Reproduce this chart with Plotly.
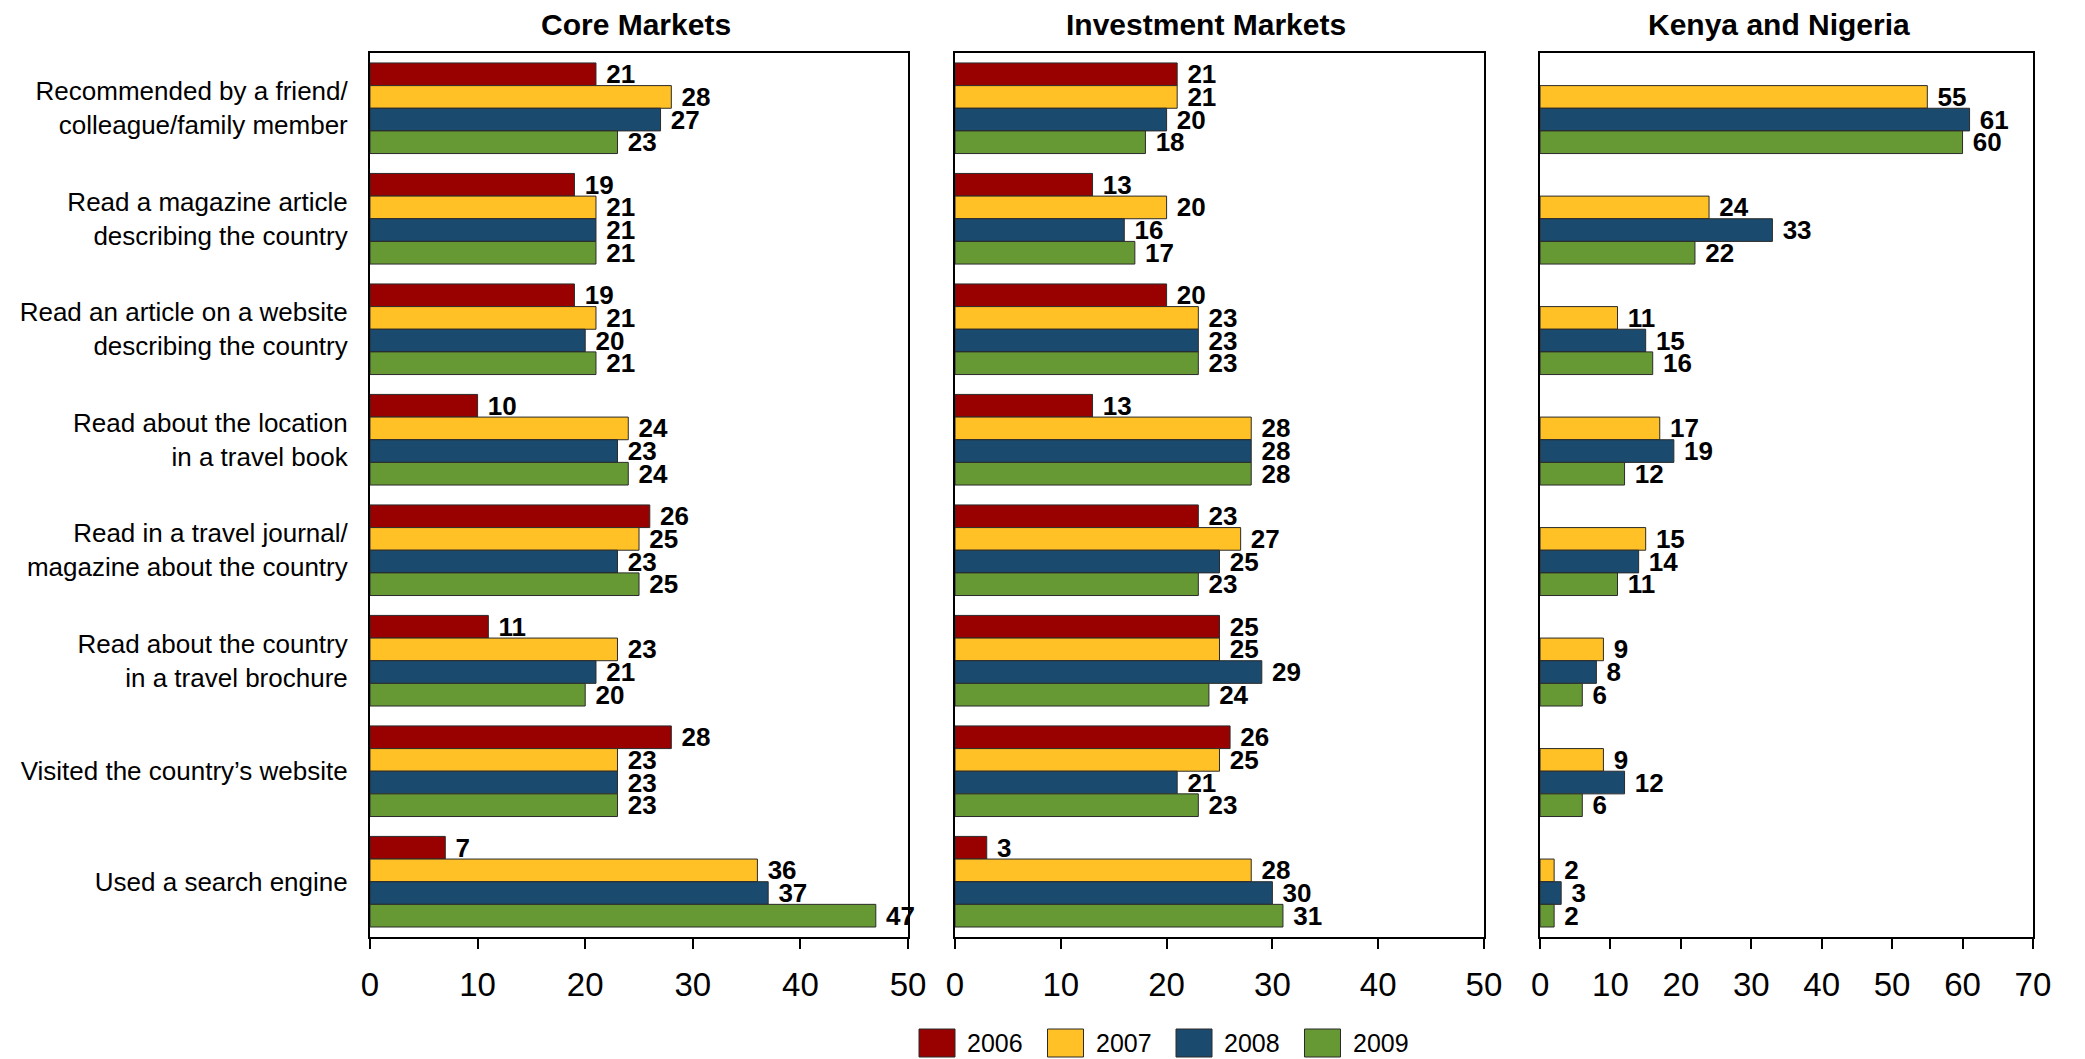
import plotly.graph_objects as go
from plotly.subplots import make_subplots

categories = [
    "Recommended by a friend/<br>colleague/family member",
    "Read a magazine article<br>describing the country",
    "Read an article on a website<br>describing the country",
    "Read about the location<br>in a travel book",
    "Read in a travel journal/<br>magazine about the country",
    "Read about the country<br>in a travel brochure",
    "Visited the country’s website",
    "Used a search engine",
]
years = ["2006", "2007", "2008", "2009"]
colors = ["#990000", "#FFC125", "#1A4A6E", "#669933"]
panel_titles = ["Core Markets", "Investment Markets", "Kenya and Nigeria"]

core_2006 = [21, 19, 19, 10, 26, 11, 28, 7]
core_2007 = [28, 21, 21, 24, 25, 23, 23, 36]
core_2008 = [27, 21, 20, 23, 23, 21, 23, 37]
core_2009 = [23, 21, 21, 24, 25, 20, 23, 47]

invest_2006 = [21, 13, 20, 13, 23, 25, 26, 3]
invest_2007 = [21, 20, 23, 28, 27, 25, 25, 28]
invest_2008 = [20, 16, 23, 28, 25, 29, 21, 30]
invest_2009 = [18, 17, 23, 28, 23, 24, 23, 31]

kenya_2006 = [None] * 8
kenya_2007 = [55, 24, 11, 17, 15, 9, 9, 2]
kenya_2008 = [61, 33, 15, 19, 14, 8, 12, 3]
kenya_2009 = [60, 22, 16, 12, 11, 6, 6, 2]

panels = [
    [core_2006, core_2007, core_2008, core_2009],
    [invest_2006, invest_2007, invest_2008, invest_2009],
    [kenya_2006, kenya_2007, kenya_2008, kenya_2009],
]
x_max = [50, 50, 70]

font = "Liberation Sans, Arial, sans-serif"
W, H = 2085, 1059

fig = make_subplots(rows=1, cols=3, shared_yaxes=False)

for p, series in enumerate(panels):
    for i, vals in enumerate(series):
        fig.add_trace(go.Bar(
            y=categories, x=vals, orientation="h",
            name=years[i], showlegend=False,
            marker=dict(color=colors[i], line=dict(color="#2b2b2b", width=1)),
            texttemplate="\u00a0%{x}", textposition="outside",
            textfont=dict(size=26, color="black", family=font, weight="bold"),
            constraintext="none", cliponaxis=False,
        ), row=1, col=p + 1)

# page body has an 8px margin, so positions are shifted by that
domains = [[0.1736, 0.4317], [0.4542, 0.7079], [0.7348, 0.9712]]
title_x = [0.495, 0.475, 0.484]
for p in range(3):
    xa = "xaxis" if p == 0 else f"xaxis{p + 1}"
    ya = "yaxis" if p == 0 else f"yaxis{p + 1}"
    fig.update_layout({
        xa: dict(domain=domains[p], range=[0, x_max[p]], dtick=10,
                 showline=True, linecolor="black", linewidth=2, mirror=True,
                 ticks="outside", ticklen=10, tickwidth=1.5, tickcolor="black",
                 ticklabelstandoff=7, showgrid=False, zeroline=False,
                 tickfont=dict(size=33, family=font, color="black"),
                 automargin=False, fixedrange=True),
        ya: dict(domain=[0.1228, 0.9575], autorange="reversed",
                 showline=True, linecolor="black", linewidth=2, mirror=True,
                 showgrid=False, ticks="", showticklabels=(p == 0),
                 ticklabelstandoff=15,
                 tickfont=dict(size=26, family=font, color="black"),
                 automargin=False, fixedrange=True),
    })
    fig.add_annotation(text=f"<b>{panel_titles[p]}</b>", x=title_x[p],
                       xref=f"x{'' if p == 0 else p + 1} domain",
                       y=1 - 17 / H, yref="paper", yanchor="middle", showarrow=False,
                       font=dict(size=30, family=font, color="black"))

# legend drawn by hand so the swatches match the original's size
leg_x0, leg_step, sw_w = 911, 128.5, 36
for i, yr in enumerate(years):
    x0 = leg_x0 + i * leg_step
    fig.add_shape(type="rect", xref="paper", yref="paper",
                  x0=x0 / W, x1=(x0 + sw_w) / W, y0=1 - 1049 / H, y1=1 - 1021 / H,
                  fillcolor=colors[i], line=dict(color="#2b2b2b", width=1))
    fig.add_annotation(text=yr, xref="paper", yref="paper", x=(x0 + sw_w + 10) / W,
                       y=1 - 1035 / H, xanchor="left", yanchor="middle", showarrow=False,
                       font=dict(size=25, family=font, color="black"))

fig.update_layout(
    width=W, height=H,
    barmode="group", bargap=0.18, bargroupgap=0,
    plot_bgcolor="white", paper_bgcolor="white",
    margin=dict(l=0, r=0, t=0, b=0),
    font=dict(family=font, color="black"),
    showlegend=False,
)

fig.write_html("out.html")
